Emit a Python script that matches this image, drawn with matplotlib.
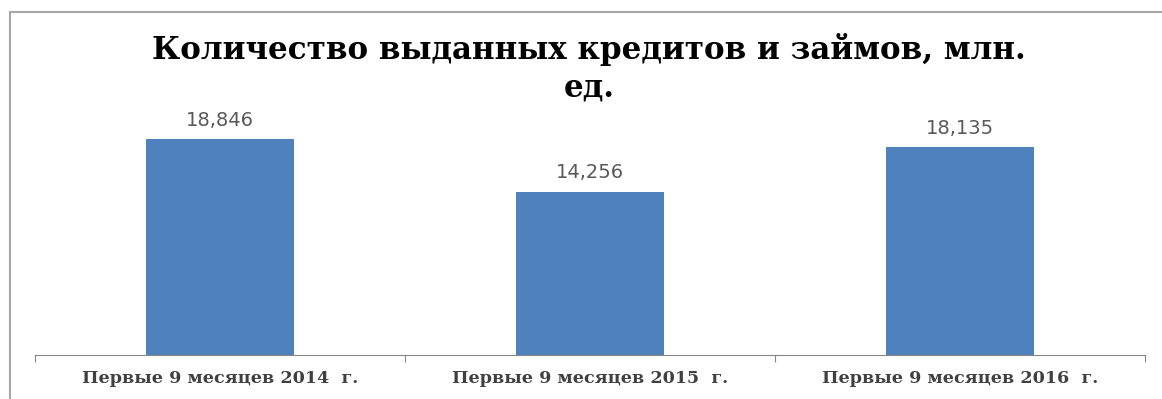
import matplotlib.pyplot as plt
from matplotlib.patches import Rectangle

# данные с графика
categories = ["Первые 9 месяцев 2014  г.",
              "Первые 9 месяцев 2015  г.",
              "Первые 9 месяцев 2016  г."]
values = [18.846, 14.256, 18.135]
value_labels = ["18,846", "14,256", "18,135"]

title = "Количество выданных кредитов и займов, млн.\nед."

fig = plt.figure(figsize=(11.62, 3.99), dpi=100)

# рамка вокруг диаграммы
fig.patches.append(Rectangle((10 / 1162, -0.05), 1.2, 1 - 12 / 399 + 0.05,
                             transform=fig.transFigure, fill=False,
                             edgecolor="#a6a6a6", linewidth=1.5))

ax = fig.add_axes([35 / 1162, 1 - 355 / 399, 1110 / 1162, 245 / 399])
x = range(len(values))
ax.bar(x, values, width=0.4, color="#4f81bd")
ax.set_xlim(-0.5, 2.5)
ax.set_ylim(0, 21.4)

for xi, v, lab in zip(x, values, value_labels):
    ax.annotate(lab, (xi, v), xytext=(0, 7), textcoords="offset points",
                ha="center", va="bottom", fontsize=14, color="#595959",
                family="DejaVu Sans")

for side in ["left", "right", "top"]:
    ax.spines[side].set_visible(False)
ax.spines["bottom"].set_color("#868686")
ax.set_yticks([])
ax.set_xticks([-0.5, 0.5, 1.5, 2.5])
ax.set_xticklabels([])
ax.tick_params(axis="x", length=5, color="#868686")
ax.set_xticks(list(x), minor=True)
ax.set_xticklabels(categories, minor=True, family="DejaVu Serif",
                   fontweight="bold", fontsize=12.6, color="#404040")
ax.tick_params(axis="x", which="minor", length=0, pad=11)

fig.text(0.507, 1 - 68 / 399, title, ha="center", va="center",
         family="DejaVu Serif", fontweight="bold", fontsize=22.3,
         linespacing=1.28)

fig.savefig("out.png", dpi=100)
